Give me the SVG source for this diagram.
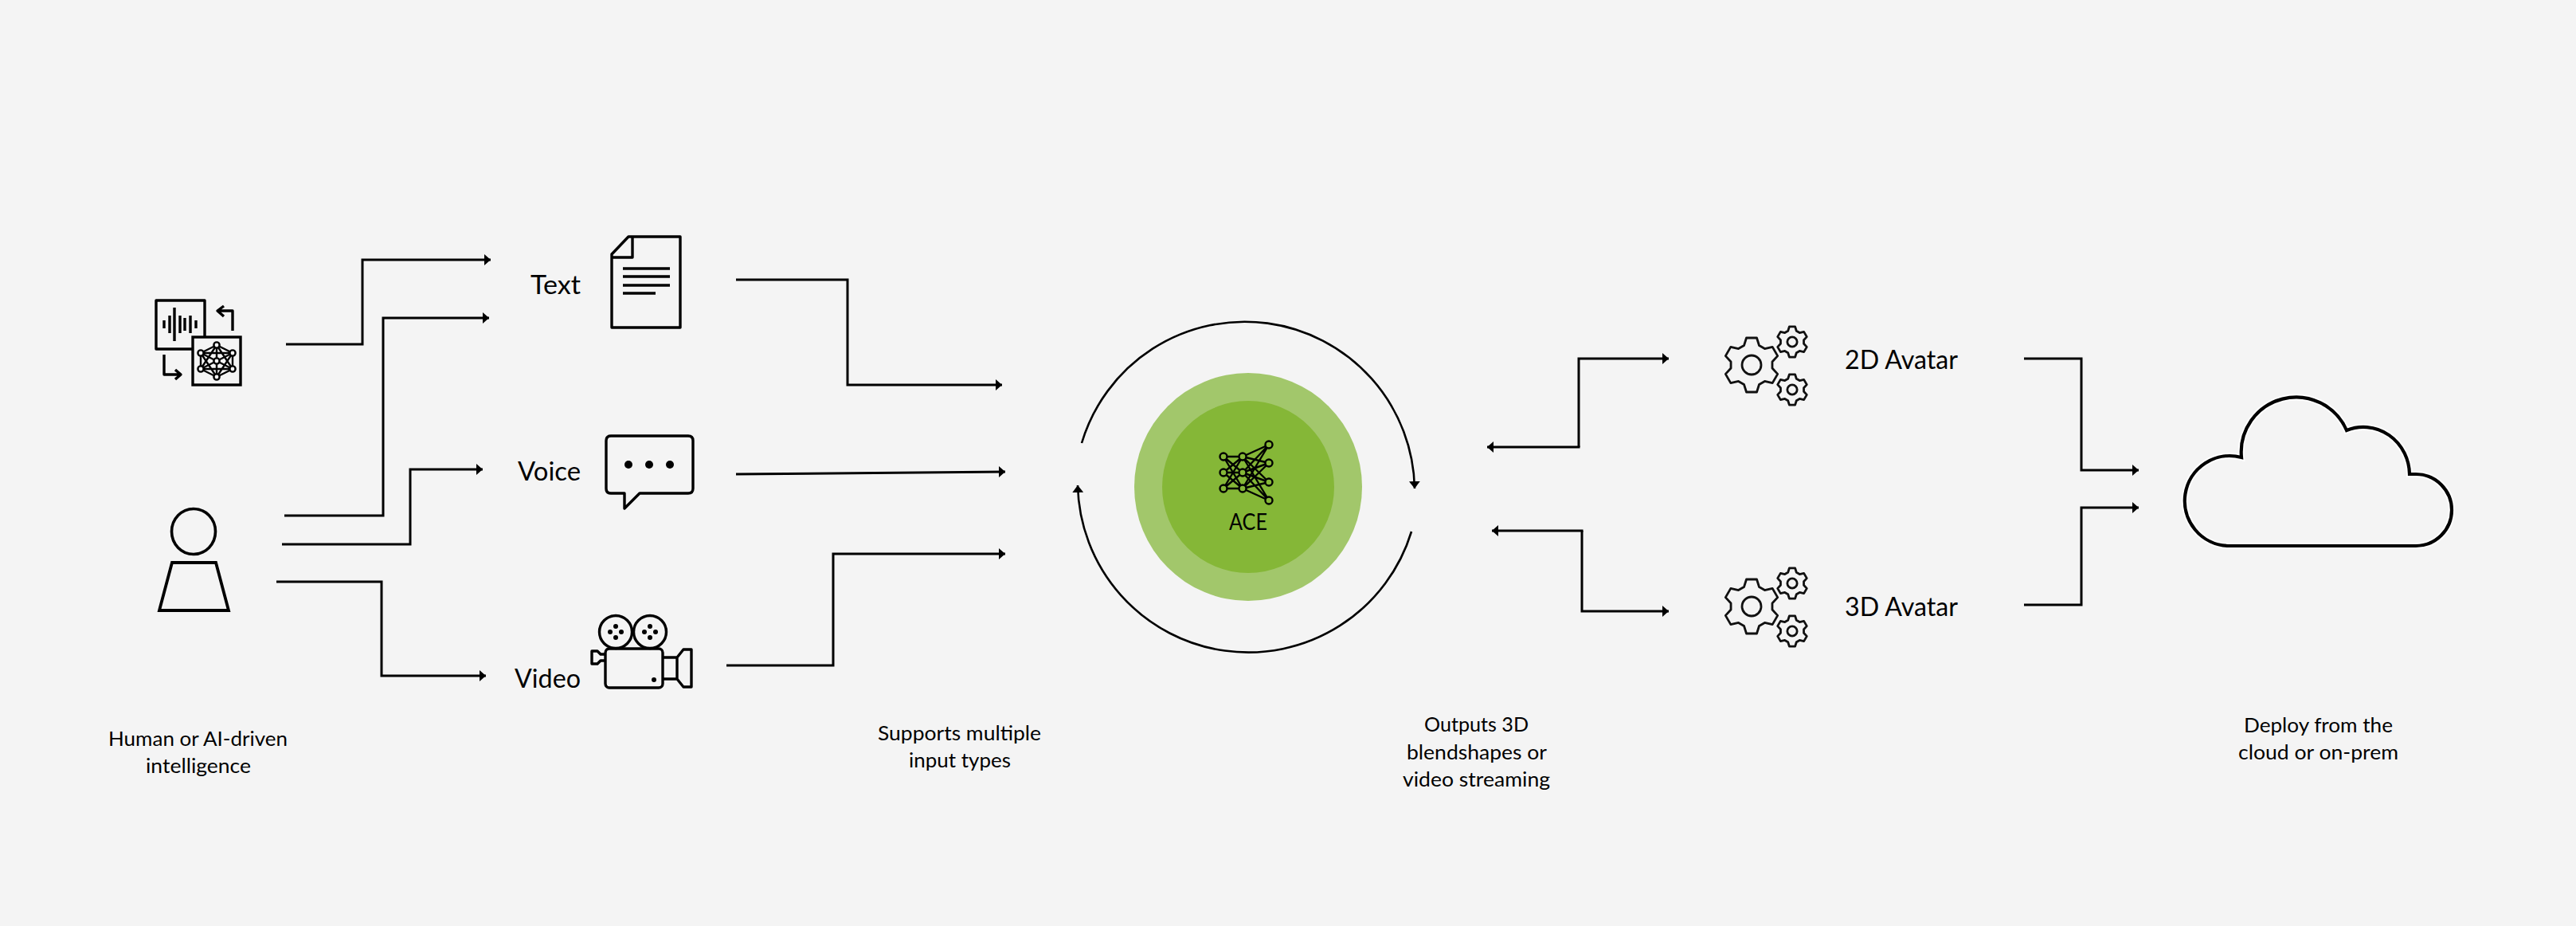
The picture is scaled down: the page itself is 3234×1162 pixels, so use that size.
<svg xmlns="http://www.w3.org/2000/svg" xmlns:xlink="http://www.w3.org/1999/xlink" width="3234" height="1162" viewBox="0 0 3234 1162">
<style>
text{font-family:"Lato","Open Sans","Liberation Sans",sans-serif;fill:#000}
.lg{font-size:33px}
.sm{font-size:25.5px}
.ace{font-size:29px}
.ln{fill:none;stroke:#000;stroke-width:3;stroke-linejoin:miter}
.arc{fill:none;stroke:#000;stroke-width:2.6}
.ic{fill:none;stroke:#000;stroke-width:3.4;stroke-linejoin:round;stroke-linecap:butt}
.ic2{fill:#f4f4f4;stroke:#000;stroke-width:3.4}
.gear{fill:none;stroke:#111;stroke-width:2.8;stroke-linejoin:round;vector-effect:non-scaling-stroke}
.nn circle{fill:#85b737;stroke:#000;stroke-width:2.4}
.nt circle{fill:#f4f4f4;stroke:#000;stroke-width:2.4}
</style>
<defs>
<marker id="ah" markerUnits="userSpaceOnUse" markerWidth="9" markerHeight="14" refX="8" refY="7" orient="auto"><path d="M0 0L8 7L0 14Z" fill="#000"/></marker>
<marker id="ac" markerUnits="userSpaceOnUse" markerWidth="10" markerHeight="14" refX="9" refY="7" orient="auto"><path d="M0 0L9 7L0 14Z" fill="#000"/></marker>
<g id="gears">
<path id="gearbig" class="gear" d="M-6.5 -34L6.5 -34 9.5 -24.5 16.47 -20.48 26.19 -22.63 32.69 -11.37 25.97 -4.02 25.97 4.02 32.69 11.37 26.19 22.63 16.47 20.48 9.5 24.5 6.5 34 -6.5 34 -9.5 24.5 -16.47 20.48 -26.19 22.63 -32.69 11.37 -25.97 4.02 -25.97 -4.02 -32.69 -11.37 -26.19 -22.63 -16.47 -20.48 -9.5 -24.5Z"/>
<circle class="gear" r="12"/>
<g transform="translate(51 -29) scale(.56)"><use xlink:href="#gearbig"/><circle class="gear" r="11"/></g>
<g transform="translate(51 31) scale(.56)"><use xlink:href="#gearbig"/><circle class="gear" r="11"/></g>
</g>
</defs>
<rect width="3234" height="1162" fill="#f4f4f4"/>

<g id="connectors">
<path class="ln" marker-end="url(#ah)" d="M359 432H455V326H616"/>
<path class="ln" marker-end="url(#ah)" d="M357 647H481V399H614"/>
<path class="ln" marker-end="url(#ah)" d="M354 683H515V589H606"/>
<path class="ln" marker-end="url(#ah)" d="M347 730H479V848H610"/>
<path class="ln" marker-end="url(#ah)" d="M924 351H1064V483H1258"/>
<path class="ln" marker-end="url(#ah)" d="M924 595L1262 592"/>
<path class="ln" marker-end="url(#ah)" d="M912 835H1046V695H1262"/>
<path class="ln" marker-end="url(#ah)" d="M1982 561V450H2095"/>
<path class="ln" marker-end="url(#ah)" d="M1986 666V767H2095"/>
<path class="ln" marker-end="url(#ah)" d="M2541 450H2613V590H2685"/>
<path class="ln" marker-end="url(#ah)" d="M2541 759H2613V637H2685"/>
<path class="ln" marker-end="url(#ah)" d="M1983.5 561H1867"/>
<path class="ln" marker-end="url(#ah)" d="M1987.5 666H1873"/>
<path class="arc" marker-end="url(#ac)" d="M1358 556A213.5 213.5 0 0 1 1776 613"/>
<path class="arc" marker-end="url(#ac)" d="M1772 667A214.2 214.2 0 0 1 1353 609"/>
</g>

<g id="node-exchange">
<g class="ic">
<rect x="196" y="377" width="61" height="61"/>
<path d="M206 402v10M213 396v22M219 386v42M226 396v22M232 399v16M239 396v22M246 402v10"/>
<path d="M292 415V390H273M281 384L273 390 281 397"/>
<path d="M206 445V470H227M220 464L227 470 220 476"/>
</g>
<rect class="ic2" x="242" y="423" width="60" height="60"/>
<g class="nt">
<path d="M272 433L292 443 292 463 272 473 252 463 252 443ZM272 433L292 463 252 463ZM272 473L252 443 292 443ZM252 443L292 463M292 443L252 463M272 433V473" fill="none" stroke="#000" stroke-width="2.4"/>
<circle cx="272" cy="433" r="3.6"/><circle cx="272" cy="473" r="3.6"/><circle cx="252" cy="443" r="3.6"/><circle cx="292" cy="443" r="3.6"/><circle cx="252" cy="463" r="3.6"/><circle cx="292" cy="463" r="3.6"/><circle cx="272" cy="453" r="3.6"/>
</g>
</g>

<g id="node-person">
<ellipse cx="243" cy="667" rx="27.5" ry="28.5" fill="none" stroke="#000" stroke-width="3.6"/>
<path d="M216 706H271L287 766H200Z" fill="none" stroke="#000" stroke-width="3.8"/>
<text class="sm" x="136" y="936" textLength="225" lengthAdjust="spacingAndGlyphs">Human or AI-driven</text>
<text class="sm" x="183" y="970" textLength="132" lengthAdjust="spacingAndGlyphs">intelligence</text>
</g>

<g id="node-text">
<text class="lg" x="666" y="369" textLength="63" lengthAdjust="spacingAndGlyphs">Text</text>
<path class="ic" d="M789 297H854V411H768V319ZM794 297V323H768"/>
<path class="ic" d="M782 337H841M782 347H841M782 358H841M782 368H823"/>
</g>

<g id="node-voice">
<text class="lg" x="650" y="603" textLength="79" lengthAdjust="spacingAndGlyphs">Voice</text>
<path class="ic" d="M767 547H864Q870 547 870 553V613Q870 619 864 619H803L784 638V619H767Q761 619 761 613V553Q761 547 767 547Z"/>
<circle cx="789" cy="583" r="5"/><circle cx="815" cy="583" r="5"/><circle cx="841" cy="583" r="5"/>
</g>

<g id="node-video">
<text class="lg" x="646" y="863" textLength="83" lengthAdjust="spacingAndGlyphs">Video</text>
<g class="ic">
<circle cx="773" cy="793" r="20.5"/><circle cx="816" cy="793" r="20.5"/>
<rect x="760" y="814" width="72" height="49" rx="5"/>
<path d="M760 821H754L750 817H743V833H750L754 829H760"/>
<path d="M832 825H850V852H832M850 825L858 815H868V862H858L850 852Z"/>
</g>
<circle cx="821" cy="853" r="3"/>
<circle cx="773" cy="786" r="3"/><circle cx="773" cy="800" r="3"/><circle cx="766" cy="793" r="3"/><circle cx="780" cy="793" r="3"/>
<circle cx="816" cy="786" r="3"/><circle cx="816" cy="800" r="3"/><circle cx="809" cy="793" r="3"/><circle cx="823" cy="793" r="3"/>
</g>

<g id="node-ace">
<circle cx="1567" cy="611" r="143" fill="#a2c76b"/>
<circle cx="1567" cy="611" r="108" fill="#85b737"/>
<g class="nn">
<path fill="none" stroke="#000" stroke-width="2.4" d="M1536 573L1560 573M1536 573L1560 593M1536 573L1560 613M1536 593L1560 573M1536 593L1560 593M1536 593L1560 613M1536 613L1560 573M1536 613L1560 593M1536 613L1560 613M1560 573L1593 558M1560 573L1593 581M1560 573L1593 605M1560 573L1593 628M1560 593L1593 558M1560 593L1593 581M1560 593L1593 605M1560 593L1593 628M1560 613L1593 558M1560 613L1593 581M1560 613L1593 605M1560 613L1593 628"/>
<circle cx="1536" cy="573" r="4.5"/><circle cx="1536" cy="593" r="4.5"/><circle cx="1536" cy="613" r="4.5"/>
<circle cx="1560" cy="573" r="4.5"/><circle cx="1560" cy="593" r="4.5"/><circle cx="1560" cy="613" r="4.5"/>
<circle cx="1593" cy="558" r="4.5"/><circle cx="1593" cy="581" r="4.5"/><circle cx="1593" cy="605" r="4.5"/><circle cx="1593" cy="628" r="4.5"/>
</g>
<text class="ace" x="1543" y="665" textLength="48" lengthAdjust="spacingAndGlyphs">ACE</text>
</g>

<g id="node-2d-avatar">
<use xlink:href="#gears" transform="translate(2199 458)"/>
<text class="lg" x="2316" y="463" textLength="142" lengthAdjust="spacingAndGlyphs">2D Avatar</text>
</g>

<g id="node-3d-avatar">
<use xlink:href="#gears" transform="translate(2199 761)"/>
<text class="lg" x="2316" y="773" textLength="142" lengthAdjust="spacingAndGlyphs">3D Avatar</text>
</g>

<g id="node-cloud">
<path d="M2797 685H3033A45 45 0 0 0 3033 595H3025A58 60 0 0 0 2946 540A69 69 0 0 0 2814 574A56.5 56.5 0 1 0 2797 685Z" fill="#f4f4f4" stroke="#fff" stroke-width="8"/>
<path d="M2797 685H3033A45 45 0 0 0 3033 595H3025A58 60 0 0 0 2946 540A69 69 0 0 0 2814 574A56.5 56.5 0 1 0 2797 685Z" fill="none" stroke="#000" stroke-width="4.2"/>
</g>

<g id="captions">
<text class="sm" x="1102" y="929" textLength="205" lengthAdjust="spacingAndGlyphs">Supports multiple</text>
<text class="sm" x="1141" y="963" textLength="128" lengthAdjust="spacingAndGlyphs">input types</text>
<text class="sm" x="1788" y="918" textLength="131" lengthAdjust="spacingAndGlyphs">Outputs 3D</text>
<text class="sm" x="1766" y="953" textLength="176" lengthAdjust="spacingAndGlyphs">blendshapes or</text>
<text class="sm" x="1761" y="987" textLength="185" lengthAdjust="spacingAndGlyphs">video streaming</text>
<text class="sm" x="2817" y="919" textLength="187" lengthAdjust="spacingAndGlyphs">Deploy from the</text>
<text class="sm" x="2810" y="953" textLength="201" lengthAdjust="spacingAndGlyphs">cloud or on-prem</text>
</g>
</svg>
